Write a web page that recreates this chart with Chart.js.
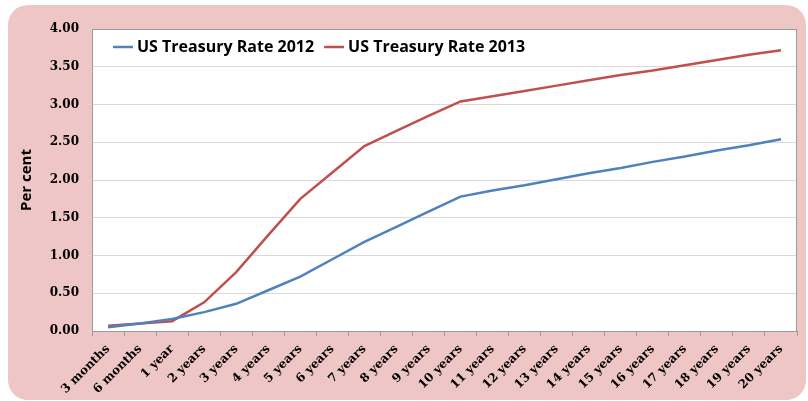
<!DOCTYPE html>
<html>
<head>
<meta charset="utf-8">
<script src="https://cdn.jsdelivr.net/npm/chart.js@4.4.1/dist/chart.umd.min.js"></script>
<style>
  html, body { margin: 0; padding: 0; background: #fff; }
  #wrap { width: 808px; height: 401px; }
</style>
</head>
<body>
<div id="wrap"><canvas id="chart-rates" width="808" height="401"></canvas></div>
<script>
const maturities = ['3 months', '6 months', '1 year', '2 years', '3 years', '4 years', '5 years',
  '6 years', '7 years', '8 years', '9 years', '10 years', '11 years', '12 years', '13 years',
  '14 years', '15 years', '16 years', '17 years', '18 years', '19 years', '20 years'];
const rates2012 = [0.05, 0.10, 0.16, 0.25, 0.36, 0.54, 0.72, 0.95, 1.18, 1.38, 1.58, 1.78,
  1.86, 1.93, 2.01, 2.09, 2.16, 2.24, 2.31, 2.39, 2.46, 2.54];
const rates2013 = [0.07, 0.10, 0.13, 0.38, 0.78, 1.27, 1.75, 2.10, 2.45, 2.65, 2.85, 3.04,
  3.11, 3.18, 3.25, 3.32, 3.39, 3.45, 3.52, 3.59, 3.66, 3.72];

const serif = '"DejaVu Serif", "Liberation Serif", serif';
const sans = '"Open Sans", "DejaVu Sans", sans-serif';

// pink rounded panel behind everything + border around plot + legend inside plot
const panel = {
  id: 'panel',
  beforeDraw(chart) {
    const c = chart.ctx;
    c.save();
    c.fillStyle = '#eec6c6';
    c.beginPath();
    c.roundRect(8, 5, 798, 395, 20);
    c.fill();
    const a = chart.chartArea;
    c.fillStyle = '#ffffff';
    c.fillRect(a.left, a.top, a.right - a.left, a.bottom - a.top);
    c.restore();
  },
  afterDraw(chart) {
    const c = chart.ctx;
    const a = chart.chartArea;
    c.save();
    c.strokeStyle = '#9a9a9a';
    c.lineWidth = 1;
    c.strokeRect(a.left + 0.5, a.top + 0.5, a.right - a.left - 1, a.bottom - a.top);
    // legend
    c.font = 'bold 16px ' + sans;
    c.textBaseline = 'middle';
    let x = a.left + 21;
    const y = a.top + 18;
    chart.data.datasets.forEach(ds => {
      c.strokeStyle = ds.borderColor;
      c.lineWidth = 2.5;
      c.beginPath();
      c.moveTo(x, y);
      c.lineTo(x + 20, y);
      c.stroke();
      c.fillStyle = '#000';
      c.fillText(ds.label, x + 24, y);
      x += 24 + c.measureText(ds.label).width + 10;
    });
    c.restore();
  }
};

new Chart(document.getElementById('chart-rates').getContext('2d'), {
  type: 'line',
  data: {
    labels: maturities,
    datasets: [{
      label: 'US Treasury Rate 2012',
      data: rates2012,
      borderColor: '#4f81bd',
      borderWidth: 2.5,
      pointRadius: 0,
      tension: 0
    }, {
      label: 'US Treasury Rate 2013',
      data: rates2013,
      borderColor: '#c0504d',
      borderWidth: 2.5,
      pointRadius: 0,
      tension: 0
    }]
  },
  options: {
    responsive: false,
    animation: false,
    events: [],
    layout: { padding: { left: 0, top: 29, right: 11, bottom: 0 } },
    plugins: {
      legend: { display: false },
      tooltip: { enabled: false }
    },
    scales: {
      x: {
        offset: true,
        afterFit(scale) { scale.height = 70; },
        grid: { display: true, offset: true, drawOnChartArea: false, tickLength: 5, color: '#9a9a9a' },
        border: { color: '#9a9a9a' },
        ticks: { font: { family: serif, weight: 'bold', size: 12 }, color: '#000', maxRotation: 45, minRotation: 45, autoSkip: false, padding: 6 }
      },
      y: {
        min: 0,
        max: 4,
        afterFit(scale) { scale.width = 92; },
        grid: { color: '#d9d9d9', tickLength: 5 },
        border: { color: '#9a9a9a' },
        ticks: {
          stepSize: 0.5,
          font: { family: serif, weight: 'bold', size: 12 },
          color: '#000',
          padding: 8,
          callback: v => v.toFixed(2)
        },
        title: {
          display: true,
          text: 'Per cent',
          font: { family: sans, weight: 'bold', size: 15 },
          color: '#000',
          padding: { top: 18, bottom: 4 }
        }
      }
    }
  },
  plugins: [panel]
});
</script>
</body>
</html>
